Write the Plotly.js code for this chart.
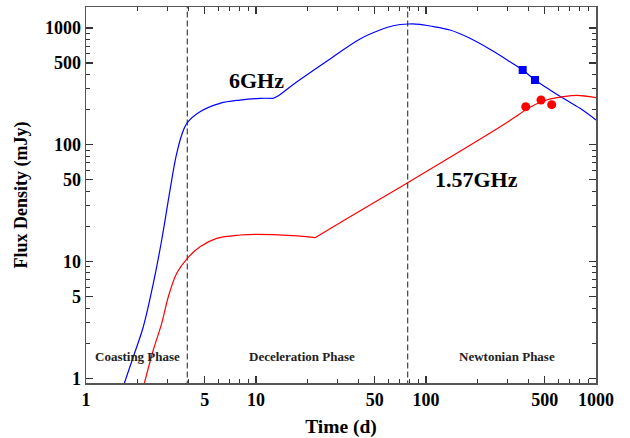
<!DOCTYPE html>
<html>
<head>
<meta charset="utf-8">
<script src="https://cdn.plot.ly/plotly-3.0.1.min.js"></script>
<style>html,body{margin:0;padding:0;background:#fff;}#chart{width:630px;height:438px;}</style>
</head>
<body>
<div id="chart"></div>
<script>
// 6 GHz model curve (days, mJy)
var blueT = [1.68, 1.898, 2.173, 2.489, 2.788, 3.12, 3.384, 3.655, 3.944, 4.685, 6.14, 8.05, 10.56, 12.64, 13.53, 16.57, 26.06, 40.92, 53.63, 64.2, 78.7, 92.2, 105.6, 138.4, 181.5, 237.9, 311.9, 370.6, 437.7, 536.3, 642.2, 805.2, 1000];
var blueF = [0.906, 1.531, 2.766, 6.51, 15.28, 40.9, 78.9, 121.1, 154.3, 191.6, 226.2, 241.3, 249.5, 249.5, 263, 328, 518, 805, 959.5, 1044, 1080, 1073, 1038, 959.5, 814.7, 655.9, 513.6, 436.1, 358.1, 294, 249.6, 204.9, 163];
var blueKink = 13;
// 1.57 GHz model curve
var redT = [2.203, 2.489, 2.788, 3.05, 3.417, 3.944, 4.685, 5.872, 8.05, 10, 16.57, 22.23, 34.16, 78.04, 254.6, 326.1, 409.1, 512.9, 642.2, 770, 1000];
var redF = [0.906, 1.747, 2.958, 4.996, 7.925, 10.65, 13.39, 15.79, 16.86, 17.1, 16.63, 15.99, 23.2, 47.29, 133.6, 168.3, 209.1, 241.3, 257.6, 264.8, 252.6];
var redKink = 11;
// observed points
var sqT = [370.6, 437.7];
var sqF = [436.1, 358.1];
var ciT = [386, 474.9, 548.9];
var ciF = [211.5, 241.3, 220.1];
// phase boundaries (days)
var phaseBounds = [3.944, 78];
var phaseNames = ["Coasting Phase", "Deceleration Phase", "Newtonian Phase"];
var phaseLabelT = [2.01, 18.7, 298];
var phaseLabelF = 1.53;
var bandNames = ["6GHz", "1.57GHz"];
var bandLabelT = [10, 198.6];
var bandLabelF = [358, 49.9];
// ticks
var majorTicks = [1, 5, 10, 50, 100, 500, 1000];
var majorTickText = ["1", "5", "10", "50", "100", "500", "1000"];
var minorTicks = [2, 3, 4, 6, 7, 8, 9, 20, 30, 40, 60, 70, 80, 90, 200, 300, 400, 600, 700, 800, 900];

var font = "Liberation Serif, Times New Roman, serif";
var traces = [];
phaseBounds.forEach(function (b) {
  traces.push({x: [b, b], y: [0.5, 3000], mode: "lines", line: {color: "#444", width: 1.2, dash: "6px,3px"}, hoverinfo: "skip"});
});
function curve(t, f, k, color) {
  traces.push({x: t.slice(0, k + 1), y: f.slice(0, k + 1), mode: "lines", line: {color: color, width: 1.2, shape: "spline", smoothing: 1}});
  traces.push({x: t.slice(k), y: f.slice(k), mode: "lines", line: {color: color, width: 1.2, shape: "spline", smoothing: 1}});
}
curve(blueT, blueF, blueKink, "#0000ff");
curve(redT, redF, redKink, "#ff0000");
traces.push({x: sqT, y: sqF, mode: "markers", marker: {symbol: "square", color: "#0000ff", size: 8}});
traces.push({x: ciT, y: ciF, mode: "markers", marker: {symbol: "circle", color: "#ff0000", size: 9}});

var anns = [];
phaseNames.forEach(function (n, i) {
  anns.push({x: Math.log10(phaseLabelT[i]), y: Math.log10(phaseLabelF), xref: "x", yref: "y", text: n, showarrow: false,
    font: {family: font, size: 13, color: "#222", weight: "bold"}});
});
bandNames.forEach(function (n, i) {
  anns.push({x: Math.log10(bandLabelT[i]), y: Math.log10(bandLabelF[i]), xref: "x", yref: "y", text: n, showarrow: false,
    font: {family: font, size: 22, color: "#000", weight: "bold"}});
});

function axis(title, tsize) {
  return {
    type: "log",
    showgrid: false, zeroline: false,
    showline: true, linecolor: "#555", linewidth: 1.5, mirror: "ticks",
    ticks: "inside", ticklen: 7, tickwidth: 1.2, tickcolor: "#333",
    tickmode: "array", tickvals: majorTicks, ticktext: majorTickText,
    tickfont: {family: font, size: 18, color: "#000", weight: "bold"},
    minor: {tickmode: "array", tickvals: minorTicks, ticks: "inside", ticklen: 4, tickwidth: 1, tickcolor: "#333", showgrid: false},
    title: {text: title, font: {family: font, size: tsize, color: "#000", weight: "bold"}}
  };
}
var xa = axis("Time (d)", 19.5);
xa.range = [0, 3];
xa.title.standoff = 10;
var ya = axis("Flux Density (mJy)", 18);
ya.range = [-0.040, 3.179];
ya.title.standoff = 12;

var layout = {
  width: 630, height: 438,
  margin: {l: 86, r: 34, t: 7, b: 55},
  paper_bgcolor: "#fff", plot_bgcolor: "#fff",
  showlegend: false,
  xaxis: xa, yaxis: ya,
  annotations: anns
};
Plotly.newPlot("chart", traces, layout, {displayModeBar: false, staticPlot: true});
</script>
</body>
</html>
